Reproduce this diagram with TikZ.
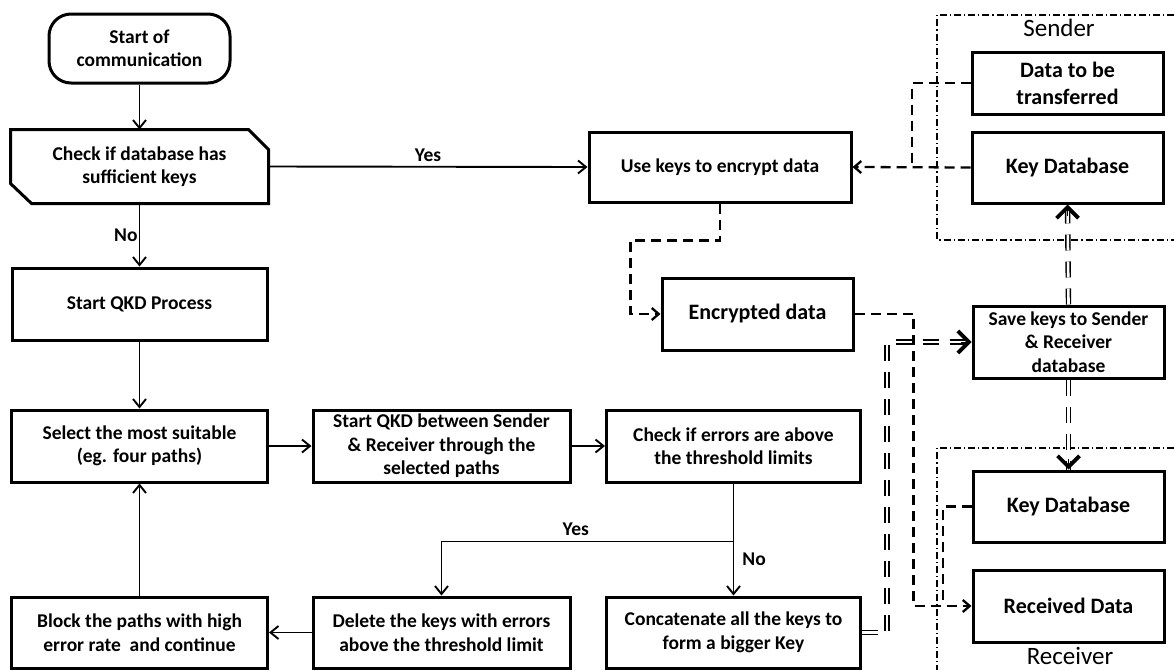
\documentclass[tikz,border=0pt]{standalone}
\usepackage{fontspec}
\setmainfont{Carlito}
\usetikzlibrary{arrows.meta}
\begin{document}
\begin{tikzpicture}[x=1pt,y=-1pt,
  box/.style={draw, line width=3pt, align=center, inner sep=2pt,
    font=\bfseries\fontsize{19.5}{23.5}\selectfont},
  bigbox/.style={box, font=\bfseries\fontsize{22}{27}\selectfont},
  wh/.style 2 args={minimum width=#1pt, minimum height=#2pt},
  lbl/.style={font=\bfseries\fontsize{19.5}{23.5}\selectfont, inner sep=2pt},
  region/.style={line width=1.2pt, dash pattern=on 7pt off 3pt on 1.2pt off 3pt},
  regionlbl/.style={font=\fontsize{25}{30}\selectfont, inner sep=0pt},
  flow/.style={line width=1.9pt, -{Straight Barb[length=8pt,width=13pt,line width=1.9pt]}},
  dashline/.style={line width=2.3pt, dash pattern=on 10pt off 6pt},
  dasharrow/.style={dashline, -{Straight Barb[length=7pt,width=12pt,line width=2.3pt]}},
  dbl/.style={line width=1.4pt, double, double distance=2.6pt, dash pattern=on 16pt off 11pt},
  dbltip/.style={line width=0.8pt, -{Straight Barb[length=11pt,width=22pt,line width=3.8pt]}}
]
\useasboundingbox (0,0) rectangle (1174,670);

% sender and receiver regions
\draw[region] (1174,15) -- (937,15) -- (937,240) -- (1174,240);
\draw[region] (1174,448) -- (937,448) -- (937,670);
\node[regionlbl] (sendlbl) at (1059,28) {Sender};
\node[regionlbl] (recvlbl) at (1070,656) {Receiver};

% main flow
\node[box, wh={181}{69}, rounded corners=22pt] (start) at (139.5,48.5) {Start of\\communication};
\node[box, draw=none, wh={255}{71}] (check) at (139.5,166.5) {Check if database has\\sufficient keys};
\draw[line width=3pt, line join=miter]
  (check.north west) -- ([xshift=-20pt]check.north east) -- ([yshift=-20pt]check.north east)
  -- (check.south east) -- ([xshift=21pt]check.south west) -- ([yshift=20pt]check.south west) -- cycle;
\node[box, wh={262}{70}] (usekeys) at (720,167) {Use keys to encrypt data};
\node[box, wh={255}{72}] (startqkd) at (139.5,304) {Start QKD Process};
\node[box, wh={256}{72}] (select) at (139.5,446) {Select the most suitable\\(eg. four paths)};
\node[box, wh={257}{72}] (between) at (441.5,446) {Start QKD between Sender\\\& Receiver through the\\selected paths};
\node[box, wh={254}{72}] (checkerr) at (733.5,446) {Check if errors are above\\the threshold limits};
\node[box, wh={256}{71}] (block) at (139.5,632.5) {Block the paths with high\\error rate\ \ and continue};
\node[box, wh={257}{71}] (delete) at (441.5,632.5) {Delete the keys with errors\\above the threshold limit};
\node[box, wh={254}{71}] (concat) at (733.5,632.5) {Concatenate all the keys to\\form a bigger Key};

% data and key stores
\node[bigbox, wh={191}{72}] (enc) at (757.5,314) {Encrypted data};
\node[bigbox, wh={191}{62}] (data) at (1067.5,83) {Data to be\\transferred};
\node[bigbox, wh={191}{71}] (kdb1) at (1067.5,167.5) {Key Database};
\node[box, wh={191}{72}] (save) at (1068.5,342) {Save keys to Sender\\\& Receiver\\database};
\node[bigbox, wh={191}{71}] (kdb2) at (1068.5,506.5) {Key Database};
\node[bigbox, wh={191}{72}] (recv) at (1068.5,606) {Received Data};

% solid flow connectors
\draw[flow] (start) -- (check);
\draw[flow] (check.east) -- node[lbl, above=2pt] {Yes} (usekeys.west);
\draw[flow] (check.south) -- node[lbl, left=-1pt] {No} (startqkd.north);
\draw[flow] (startqkd) -- (select);
\draw[flow] (select) -- (between);
\draw[flow] (between) -- (checkerr);
\coordinate (split) at ([yshift=-58pt]checkerr.south);
\draw[flow] (checkerr) -- node[lbl, pos=0.68, right=6pt] {No} (concat);
\draw[flow] (split) -| node[lbl, pos=0.27, above=3pt] {Yes} (delete.north);
\draw[flow] (delete) -- (block);
\draw[flow] (block) -- (select);

% dashed data paths
\coordinate (jsend) at (912,167);
\coordinate (jrecv) at (943,604);
\draw[dashline] (data.west) -| (jsend);
\draw[dasharrow] (kdb1.west) -- (usekeys.east);
\draw[dasharrow] (usekeys.south) -- ++(0,37) -| ([xshift=-30pt]enc.west) -- (enc.west);
\draw[dasharrow] (enc.east) -- ++(59,0) |- (recv.west);
\draw[dashline] (kdb2.west) -| (jrecv);

% key distribution (double lines)
\draw[dbl] (concat.east) -- ++(25,0) |- (save.west);
\draw[dbl] (save.north) -- (kdb1.south);
\draw[dbl] (save.south) -- (kdb2.north);
\draw[dbltip] ([xshift=-11pt]save.west) -- (save.west);
\draw[dbltip] ([yshift=-11pt]kdb1.south) -- (kdb1.south);
\draw[dbltip] ([yshift=11pt]kdb2.north) -- (kdb2.north);
\end{tikzpicture}
\end{document}
